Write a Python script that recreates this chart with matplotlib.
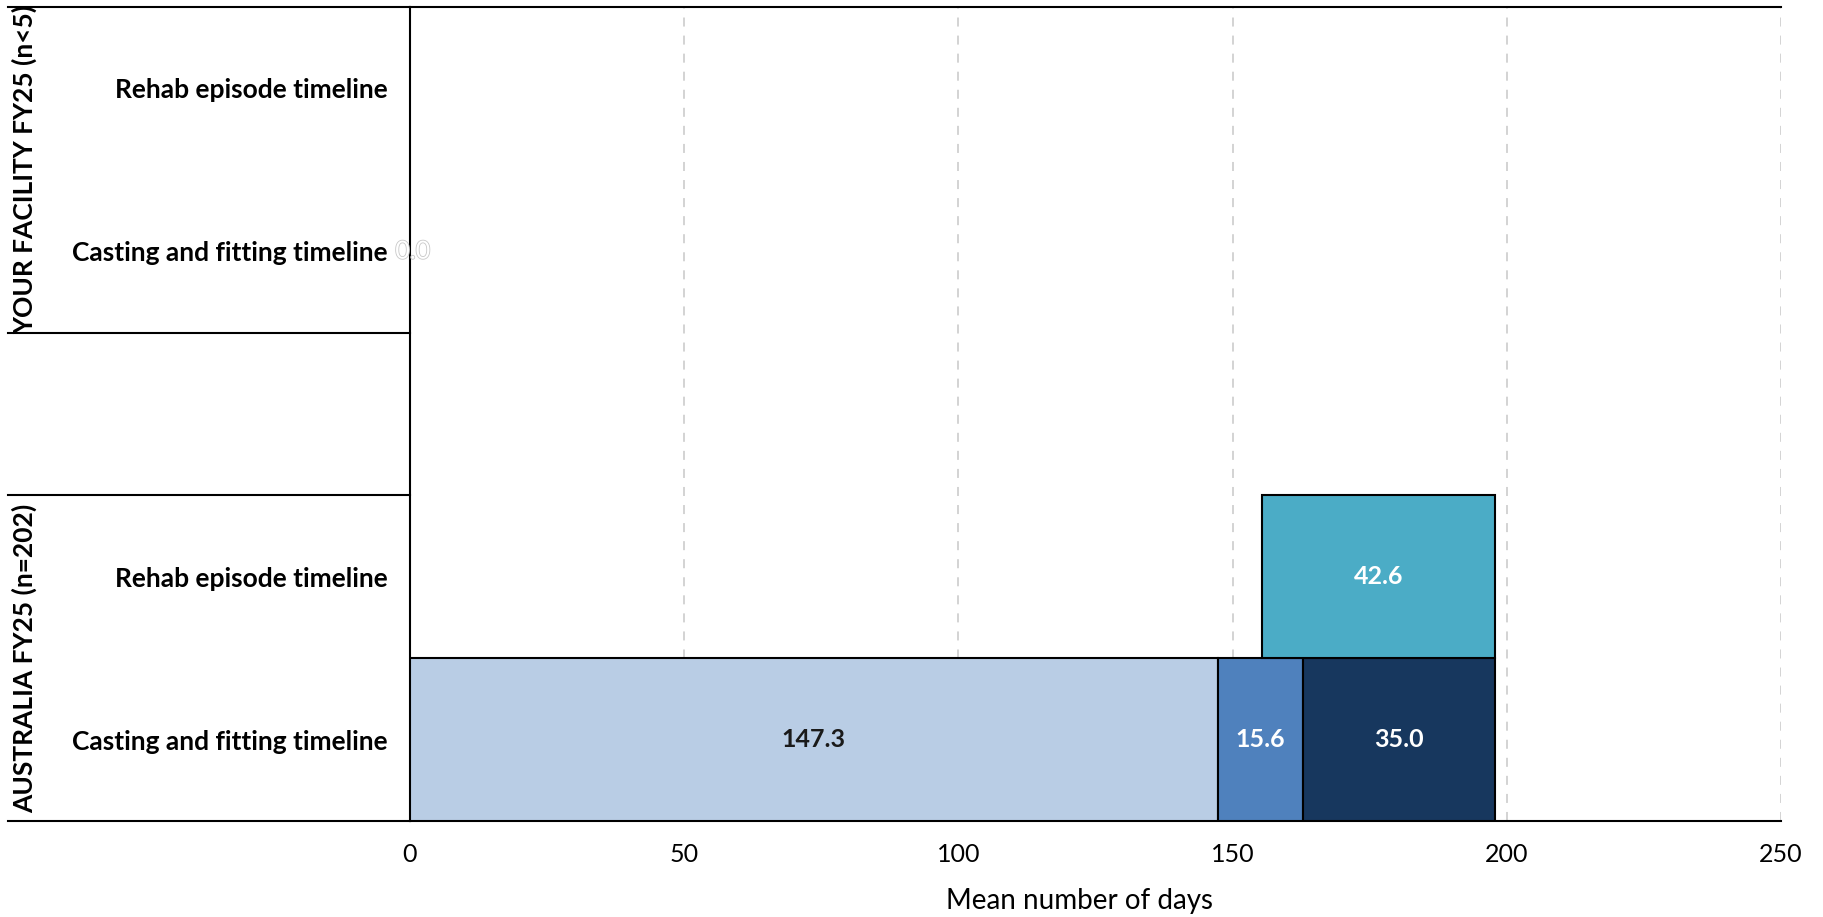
import matplotlib.pyplot as plt
import matplotlib.patheffects as pe
from matplotlib.lines import Line2D

plt.rcParams['font.family'] = ['Lato', 'DejaVu Sans']

# rows from bottom to top
rows = ["Casting and fitting timeline", "Rehab episode timeline", "",
        "Casting and fitting timeline", "Rehab episode timeline"]
groups = ["AUSTRALIA FY25 (n=202)", "YOUR FACILITY FY25 (n<5)"]

# Australia casting and fitting segments
au_cast = [147.3, 15.6, 35.0]
au_cast_colors = ["#b9cde5", "#4f81bd", "#17375e"]
au_cast_text = ["#1a1a1a", "white", "white"]
# Australia rehab episode: offset then duration
au_rehab_offset = 155.3
au_rehab = 42.6
rehab_color = "#4bacc6"
# your facility casting (no data)
yf_cast = 0.0

fig = plt.figure(figsize=(18.23, 9.17), dpi=100)
ax = fig.add_axes([0.2249, 0.1047, 0.7521, 0.8877])

ypos = list(range(len(rows)))

# stacked casting bar for Australia
left = 0
for v, c, tc in zip(au_cast, au_cast_colors, au_cast_text):
    ax.barh(0, v, left=left, height=1.0, color=c, edgecolor="black", linewidth=1.5, zorder=3)
    ax.text(left + v / 2, 0, f"{v:.1f}", ha="center", va="center", color=tc,
            fontsize=18, fontweight="bold", zorder=4)
    left += v

# rehab bar for Australia
ax.barh(1, au_rehab, left=au_rehab_offset, height=1.0, color=rehab_color,
        edgecolor="black", linewidth=1.5, zorder=3)
ax.text(au_rehab_offset + au_rehab / 2, 1, f"{au_rehab:.1f}", ha="center", va="center",
        color="white", fontsize=18, fontweight="bold", zorder=4)

# empty facility label
ax.text(yf_cast + 0.5, 3, f"{yf_cast:.1f}", ha="center", va="center", color="white",
        fontsize=18, zorder=4,
        path_effects=[pe.withStroke(linewidth=1.2, foreground="#c8c8c8")])

ax.set_xlim(0, 250)
ax.set_ylim(-0.5, 4.5)
ax.set_xticks([0, 50, 100, 150, 200, 250])
ax.set_yticks(ypos)
ax.set_yticklabels(rows, fontsize=19, fontweight="bold")
ax.tick_params(axis="y", length=0, pad=16)
ax.tick_params(axis="x", length=0, pad=16, labelsize=18)
ax.xaxis.grid(True, linestyle=(0, (5, 5)), color="#d0d0d0", linewidth=1.3, zorder=0)
ax.set_axisbelow(True)
ax.set_xlabel("Mean number of days", fontsize=20)
ax.xaxis.set_label_coords(0.488, -0.082)

for s in ["top", "bottom", "left"]:
    ax.spines[s].set_linewidth(1.5)
    ax.spines[s].set_color("black")
ax.spines["right"].set_visible(False)

# group separators and labels
tr = ax.get_yaxis_transform()
for yb in [-0.5, 1.5, 2.5, 4.5]:
    ax.add_line(Line2D([-0.293, 0], [yb, yb], transform=tr, color="black",
                       linewidth=1.5, clip_on=False))
ax.text(-0.281, 0.5, groups[0], transform=tr, rotation=90, ha="center", va="center",
        fontsize=19, fontweight="bold")
ax.text(-0.281, 3.5, groups[1], transform=tr, rotation=90, ha="center", va="center",
        fontsize=19, fontweight="bold")

fig.savefig("out.png", dpi=100)
